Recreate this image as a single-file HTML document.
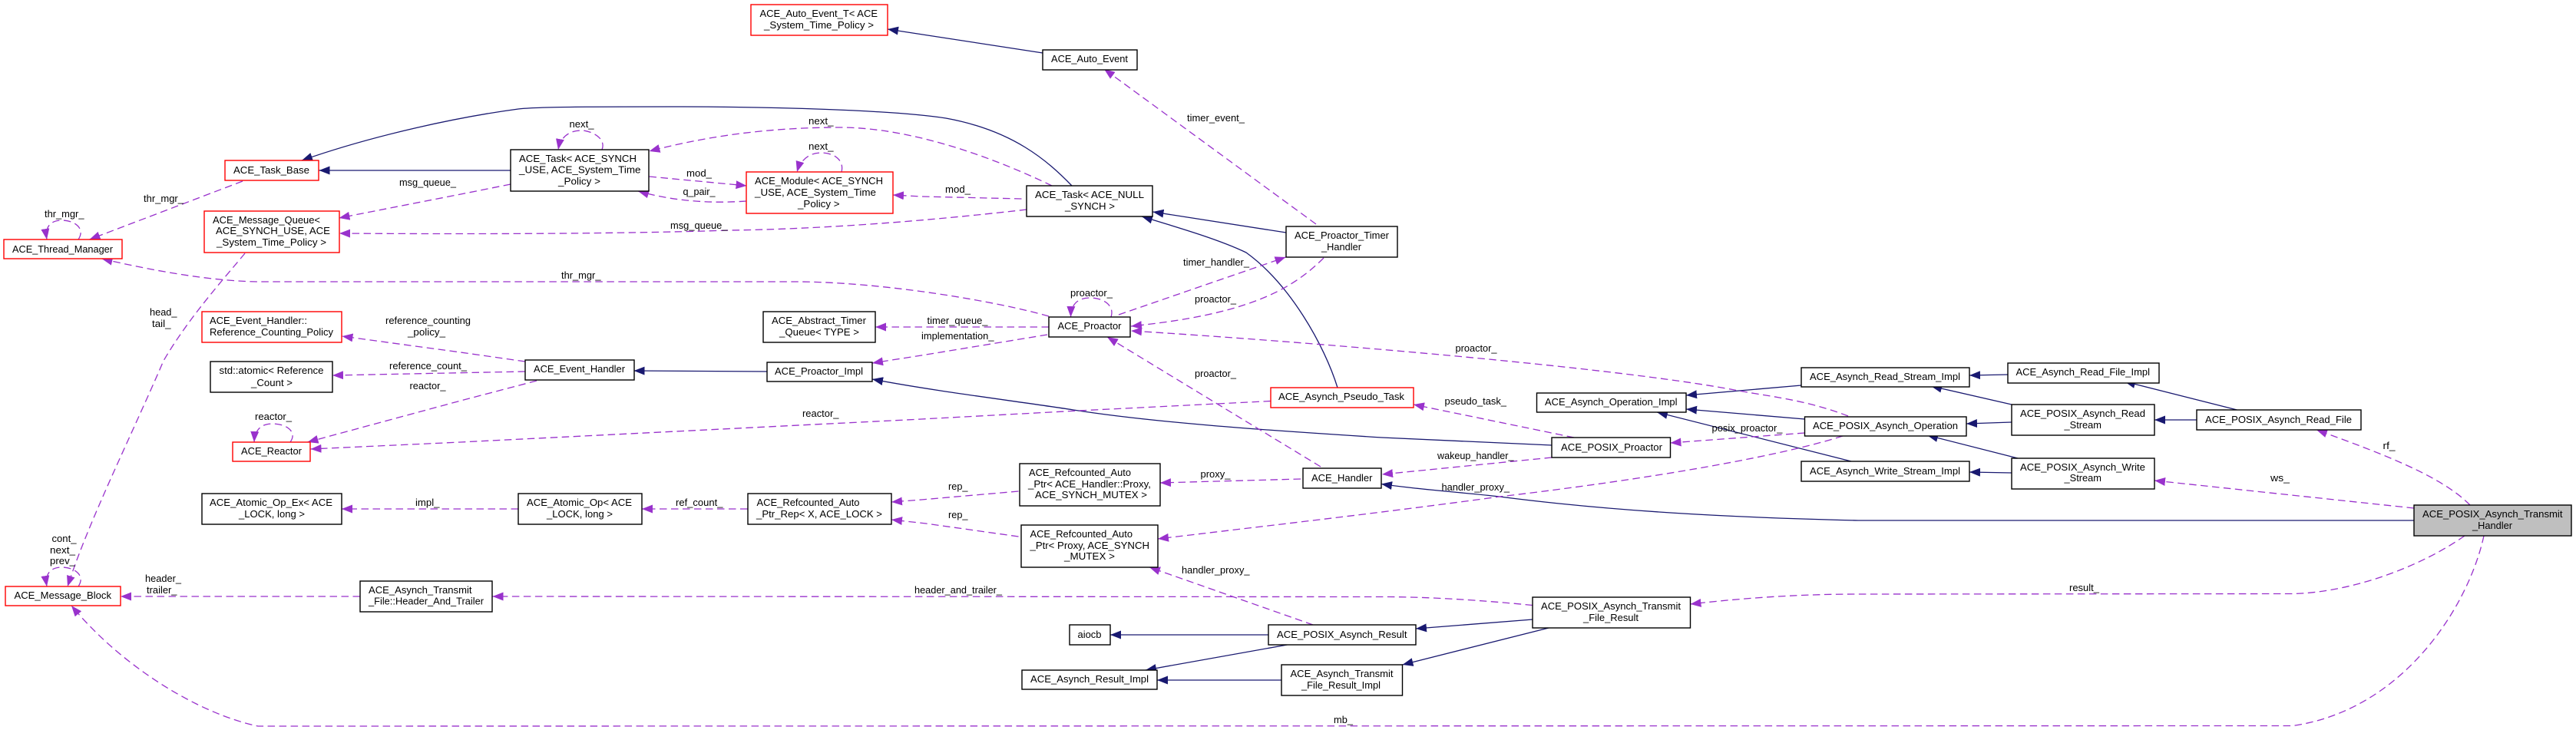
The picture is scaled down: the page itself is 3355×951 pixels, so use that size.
<!DOCTYPE html>
<html><head><meta charset="utf-8"><title>ACE_POSIX_Asynch_Transmit_Handler</title>
<style>
html,body{margin:0;padding:0;background:#fff}
svg{display:block}
text{font-family:"Liberation Sans",Arial,sans-serif;font-size:12.8px;fill:#000}
.b{fill:#fff;stroke:#000;stroke-width:1.4}
.r{fill:#fff;stroke:#f00;stroke-width:1.4}
.g{fill:#bfbfbf;stroke:#000;stroke-width:1.4}
.s{fill:none;stroke:#191970;stroke-width:1.3;marker-end:url(#an)}
.d{fill:none;stroke:#9932cc;stroke-width:1.3;stroke-dasharray:9.5 5.5;marker-end:url(#ap)}
</style></head><body>
<svg xmlns="http://www.w3.org/2000/svg" width="3355" height="951" viewBox="0 0 3355 951">
<defs>
<marker id="an" markerUnits="userSpaceOnUse" markerWidth="16" markerHeight="12" refX="14" refY="5.5" orient="auto"><polygon points="0,0 14,5.5 0,11" fill="#191970"/></marker>
<marker id="ap" markerUnits="userSpaceOnUse" markerWidth="16" markerHeight="12" refX="14" refY="5.5" orient="auto"><polygon points="0,0 14,5.5 0,11" fill="#9932cc"/></marker>
</defs>
<rect width="3355" height="951" fill="#fff"/>

<!-- solid edges -->
<path class="s" d="M665,222L415.5,222"/>
<path class="s" d="M1396,242C1365,210 1320,170 1232,154C1160,143 1000,139 877,139C780,139 700,139 675,142C600,152 490,175 393,209"/>
<path class="s" d="M1358,69L1156,38"/>
<path class="s" d="M1675,303L1501.5,276"/>
<path class="s" d="M1742,505C1725,450 1680,370 1623,329C1590,313 1540,298 1487,282"/>
<path class="s" d="M999,484L825.5,483"/>
<path class="s" d="M2021,580L1800,570C1640,560 1500,550 1398,534C1320,522 1220,510 1136,494"/>
<path class="s" d="M3144,678L2420,678C2250,674 2100,666 1953,647C1900,641 1850,638 1799,630.5"/>
<path class="s" d="M2346,502L2196,515"/>
<path class="s" d="M2350.5,546L2196,533"/>
<path class="s" d="M2411,601L2158,537"/>
<path class="s" d="M2615,488L2565,489"/>
<path class="s" d="M2620,527L2515,503"/>
<path class="s" d="M2620,550L2561,552"/>
<path class="s" d="M2628,597L2510,567"/>
<path class="s" d="M2620,616L2565,615"/>
<path class="s" d="M2913.5,534L2767,497"/>
<path class="s" d="M2861,547L2806,547"/>
<path class="s" d="M1652,827L1446,827"/>
<path class="s" d="M1676.5,840L1492,873"/>
<path class="s" d="M1669,886L1507,886"/>
<path class="s" d="M1996,807L1844,819"/>
<path class="s" d="M2017,818L1826.5,866"/>

<!-- dashed edges -->
<path class="d" d="M316,236L116.5,312"/>
<path class="d" d="M102,312C112,297 96,287 81,287C68,287 58,293 61,312"/>
<path class="d" d="M665,240L600,253L441.5,284"/>
<path class="d" d="M1337,273C1250,283 1100,298 950,300C800,305 600,305 442,304"/>
<path class="d" d="M1366,412C1300,393 1150,367 1035,367L340,367C280,367 200,353 132.5,337"/>
<path class="d" d="M319,330C290,365 245,415 213,470C170,570 115,680 88,764"/>
<path class="d" d="M102,764C112,749 96,739 81,739C68,739 58,745 61,764"/>
<path class="d" d="M469,777L157,777"/>
<path class="d" d="M1996,788.5C1950,784 1880,778 1808,777.5L641.5,777"/>
<path class="d" d="M3235,698C3215,790 3130,925 2986,945.5L336,946C260,930 160,870 93,789"/>
<path class="d" d="M684,471L600,459L445.5,438"/>
<path class="d" d="M684,484L433,489"/>
<path class="d" d="M699,496L600,522L400.5,576"/>
<path class="d" d="M378,576C388,562 372,552 355,552C342,552 332,558 331,576"/>
<path class="d" d="M1655,522.5L1405,535L1200,546L600,576L404.5,585"/>
<path class="d" d="M784,195C790,180 770,170 757,170C742,170 730,178 727,195"/>
<path class="d" d="M1370,242C1300,208 1190,166 1094,166C1010,166 930,175 845.5,197"/>
<path class="d" d="M845.5,230L972.5,242"/>
<path class="d" d="M972,262C930,265 880,263 831,249"/>
<path class="d" d="M1096,224C1100,208 1085,199 1070,199C1055,199 1043,207 1038,224"/>
<path class="d" d="M1330.5,259L1200,256L1163,254"/>
<path class="d" d="M1714,292L1479,120L1438,90"/>
<path class="d" d="M1457,410L1674.5,335"/>
<path class="d" d="M1724,336C1680,380 1620,410 1473,425"/>
<path class="d" d="M1447,413C1452,398 1437,388 1420,388C1405,388 1395,395 1394.5,413"/>
<path class="d" d="M2407,542C2350,520 2300,516 2259,508C2100,478 1700,445 1473,431"/>
<path class="d" d="M1720,608L1442,439"/>
<path class="d" d="M1366,426L1140,426"/>
<path class="d" d="M1364,436L1200,463L1136,473"/>
<path class="d" d="M2050,570L1841,527"/>
<path class="d" d="M2021,596L1800,618"/>
<path class="d" d="M2350.5,564L2175.5,577"/>
<path class="d" d="M2400,568C2300,600 2100,630 1953,647C1800,668 1650,685 1508,702"/>
<path class="d" d="M1694,624L1511,629"/>
<path class="d" d="M1710,814L1497,739"/>
<path class="d" d="M1326.5,640L1200,651L1161,654"/>
<path class="d" d="M1326.5,699L1206,682L1161,677"/>
<path class="d" d="M973.5,663L836,663"/>
<path class="d" d="M675,663L445,663"/>
<path class="d" d="M3217,658C3180,620 3100,590 3017,560"/>
<path class="d" d="M3144,662L2806,626"/>
<path class="d" d="M3210,698C3150,740 3060,772 2986,773.5L2420,774C2350,774 2280,778 2201.5,787"/>

<!-- nodes -->
<rect class="r" x="5" y="312" width="154" height="25"/>
<rect class="r" x="293" y="209" width="122" height="26"/>
<rect class="r" x="266" y="275" width="176" height="54"/>
<rect class="r" x="263" y="406" width="182" height="40"/>
<rect class="b" x="274" y="471" width="159" height="40"/>
<rect class="r" x="303" y="576" width="101" height="25"/>
<rect class="b" x="263" y="643" width="182" height="40"/>
<rect class="r" x="7" y="764" width="150" height="25"/>
<rect class="b" x="469" y="757" width="172" height="40"/>
<rect class="r" x="978" y="6" width="178" height="40"/>
<rect class="b" x="665" y="195" width="180" height="54"/>
<rect class="r" x="972" y="224" width="191" height="54"/>
<rect class="b" x="994" y="406" width="146" height="40"/>
<rect class="b" x="684" y="469" width="142" height="26"/>
<rect class="b" x="999" y="472" width="137" height="25"/>
<rect class="b" x="675" y="643" width="161" height="40"/>
<rect class="b" x="974" y="643" width="187" height="40"/>
<rect class="b" x="1358" y="65" width="123" height="26"/>
<rect class="b" x="1337" y="242" width="164" height="40"/>
<rect class="b" x="1675" y="295" width="145" height="40"/>
<rect class="b" x="1366" y="413" width="106" height="26"/>
<rect class="r" x="1655" y="505" width="186" height="26"/>
<rect class="b" x="1328" y="604" width="183" height="55"/>
<rect class="b" x="1330" y="684" width="178" height="55"/>
<rect class="b" x="1697" y="610" width="102" height="26"/>
<rect class="b" x="1393" y="814" width="53" height="26"/>
<rect class="b" x="1331" y="873" width="176" height="25"/>
<rect class="b" x="1652" y="814" width="192" height="26"/>
<rect class="b" x="1669" y="866" width="157.5" height="40"/>
<rect class="b" x="2001.5" y="512" width="194.5" height="25"/>
<rect class="b" x="2021" y="570" width="154.5" height="26"/>
<rect class="b" x="2346" y="479" width="219" height="25"/>
<rect class="b" x="2350.5" y="543" width="210.5" height="25"/>
<rect class="b" x="2346" y="601" width="219" height="26"/>
<rect class="b" x="2615" y="473" width="197" height="26"/>
<rect class="b" x="2620" y="527" width="186" height="40"/>
<rect class="b" x="2861" y="534" width="214" height="26"/>
<rect class="b" x="2620" y="597" width="186" height="40"/>
<rect class="b" x="1996" y="778" width="205.5" height="40"/>
<rect class="g" x="3144" y="658" width="205" height="40"/>

<!-- node text -->
<g lengthAdjust="spacingAndGlyphs">
<text x="16" y="329" textLength="131" lengthAdjust="spacingAndGlyphs">ACE_Thread_Manager</text>
<text x="304" y="226" textLength="99" lengthAdjust="spacingAndGlyphs">ACE_Task_Base</text>
<text x="277" y="291" textLength="140" lengthAdjust="spacingAndGlyphs">ACE_Message_Queue&lt;</text>
<text x="281" y="305" textLength="149" lengthAdjust="spacingAndGlyphs">ACE_SYNCH_USE, ACE</text>
<text x="282" y="320" textLength="143" lengthAdjust="spacingAndGlyphs">_System_Time_Policy &gt;</text>
<text x="273" y="422" textLength="127" lengthAdjust="spacingAndGlyphs">ACE_Event_Handler::</text>
<text x="273" y="437" textLength="161" lengthAdjust="spacingAndGlyphs">Reference_Counting_Policy</text>
<text x="285.5" y="487" textLength="136" lengthAdjust="spacingAndGlyphs">std::atomic&lt; Reference</text>
<text x="327" y="503" textLength="54" lengthAdjust="spacingAndGlyphs">_Count &gt;</text>
<text x="314" y="592" textLength="79" lengthAdjust="spacingAndGlyphs">ACE_Reactor</text>
<text x="273" y="659" textLength="160" lengthAdjust="spacingAndGlyphs">ACE_Atomic_Op_Ex&lt; ACE</text>
<text x="311" y="674" textLength="86" lengthAdjust="spacingAndGlyphs">_LOCK, long &gt;</text>
<text x="18.5" y="780" textLength="126.5" lengthAdjust="spacingAndGlyphs">ACE_Message_Block</text>
<text x="480" y="773" textLength="134.5" lengthAdjust="spacingAndGlyphs">ACE_Asynch_Transmit</text>
<text x="480" y="787.5" textLength="150" lengthAdjust="spacingAndGlyphs">_File::Header_And_Trailer</text>
<text x="989.5" y="22" textLength="153.5" lengthAdjust="spacingAndGlyphs">ACE_Auto_Event_T&lt; ACE</text>
<text x="995" y="37" textLength="143" lengthAdjust="spacingAndGlyphs">_System_Time_Policy &gt;</text>
<text x="676" y="211" textLength="153" lengthAdjust="spacingAndGlyphs">ACE_Task&lt; ACE_SYNCH</text>
<text x="676" y="225.5" textLength="158.5" lengthAdjust="spacingAndGlyphs">_USE, ACE_System_Time</text>
<text x="727" y="240.5" textLength="55" lengthAdjust="spacingAndGlyphs">_Policy &gt;</text>
<text x="983" y="240" textLength="167" lengthAdjust="spacingAndGlyphs">ACE_Module&lt; ACE_SYNCH</text>
<text x="983" y="255" textLength="158" lengthAdjust="spacingAndGlyphs">_USE, ACE_System_Time</text>
<text x="1039" y="270" textLength="54.5" lengthAdjust="spacingAndGlyphs">_Policy &gt;</text>
<text x="1005" y="422" textLength="123" lengthAdjust="spacingAndGlyphs">ACE_Abstract_Timer</text>
<text x="1015" y="437" textLength="104" lengthAdjust="spacingAndGlyphs">_Queue&lt; TYPE &gt;</text>
<text x="695" y="485" textLength="119" lengthAdjust="spacingAndGlyphs">ACE_Event_Handler</text>
<text x="1009" y="488" textLength="115" lengthAdjust="spacingAndGlyphs">ACE_Proactor_Impl</text>
<text x="686" y="659" textLength="137" lengthAdjust="spacingAndGlyphs">ACE_Atomic_Op&lt; ACE</text>
<text x="712" y="674" textLength="86" lengthAdjust="spacingAndGlyphs">_LOCK, long &gt;</text>
<text x="985.5" y="659" textLength="134" lengthAdjust="spacingAndGlyphs">ACE_Refcounted_Auto</text>
<text x="985" y="674" textLength="164" lengthAdjust="spacingAndGlyphs">_Ptr_Rep&lt; X, ACE_LOCK &gt;</text>
<text x="1369" y="81" textLength="100" lengthAdjust="spacingAndGlyphs">ACE_Auto_Event</text>
<text x="1348" y="258" textLength="142" lengthAdjust="spacingAndGlyphs">ACE_Task&lt; ACE_NULL</text>
<text x="1387" y="273" textLength="65" lengthAdjust="spacingAndGlyphs">_SYNCH &gt;</text>
<text x="1686" y="311" textLength="123" lengthAdjust="spacingAndGlyphs">ACE_Proactor_Timer</text>
<text x="1721" y="326" textLength="52" lengthAdjust="spacingAndGlyphs">_Handler</text>
<text x="1377.5" y="429" textLength="83" lengthAdjust="spacingAndGlyphs">ACE_Proactor</text>
<text x="1665" y="521" textLength="164" lengthAdjust="spacingAndGlyphs">ACE_Asynch_Pseudo_Task</text>
<text x="1340" y="620" textLength="133" lengthAdjust="spacingAndGlyphs">ACE_Refcounted_Auto</text>
<text x="1339" y="635" textLength="160" lengthAdjust="spacingAndGlyphs">_Ptr&lt; ACE_Handler::Proxy,</text>
<text x="1348" y="649" textLength="146" lengthAdjust="spacingAndGlyphs">ACE_SYNCH_MUTEX &gt;</text>
<text x="1341.5" y="700" textLength="133.5" lengthAdjust="spacingAndGlyphs">ACE_Refcounted_Auto</text>
<text x="1341.5" y="715" textLength="155.5" lengthAdjust="spacingAndGlyphs">_Ptr&lt; Proxy, ACE_SYNCH</text>
<text x="1386" y="729" textLength="66" lengthAdjust="spacingAndGlyphs">_MUTEX &gt;</text>
<text x="1708" y="627" textLength="79.5" lengthAdjust="spacingAndGlyphs">ACE_Handler</text>
<text x="1403.5" y="831" textLength="31" lengthAdjust="spacingAndGlyphs">aiocb</text>
<text x="1342" y="889" textLength="154" lengthAdjust="spacingAndGlyphs">ACE_Asynch_Result_Impl</text>
<text x="1663" y="831" textLength="169.5" lengthAdjust="spacingAndGlyphs">ACE_POSIX_Asynch_Result</text>
<text x="1680.5" y="882" textLength="134" lengthAdjust="spacingAndGlyphs">ACE_Asynch_Transmit</text>
<text x="1695" y="897" textLength="103" lengthAdjust="spacingAndGlyphs">_File_Result_Impl</text>
<text x="2012" y="528" textLength="172.5" lengthAdjust="spacingAndGlyphs">ACE_Asynch_Operation_Impl</text>
<text x="2033" y="587" textLength="132" lengthAdjust="spacingAndGlyphs">ACE_POSIX_Proactor</text>
<text x="2357" y="495" textLength="196" lengthAdjust="spacingAndGlyphs">ACE_Asynch_Read_Stream_Impl</text>
<text x="2361" y="559" textLength="189" lengthAdjust="spacingAndGlyphs">ACE_POSIX_Asynch_Operation</text>
<text x="2357" y="618" textLength="196" lengthAdjust="spacingAndGlyphs">ACE_Asynch_Write_Stream_Impl</text>
<text x="2625.5" y="489" textLength="174.5" lengthAdjust="spacingAndGlyphs">ACE_Asynch_Read_File_Impl</text>
<text x="2631" y="543" textLength="163" lengthAdjust="spacingAndGlyphs">ACE_POSIX_Asynch_Read</text>
<text x="2688.5" y="558" textLength="48.5" lengthAdjust="spacingAndGlyphs">_Stream</text>
<text x="2872" y="551" textLength="191" lengthAdjust="spacingAndGlyphs">ACE_POSIX_Asynch_Read_File</text>
<text x="2631" y="613" textLength="163" lengthAdjust="spacingAndGlyphs">ACE_POSIX_Asynch_Write</text>
<text x="2688.5" y="627" textLength="48.5" lengthAdjust="spacingAndGlyphs">_Stream</text>
<text x="2007" y="794" textLength="182" lengthAdjust="spacingAndGlyphs">ACE_POSIX_Asynch_Transmit</text>
<text x="2062" y="809" textLength="72" lengthAdjust="spacingAndGlyphs">_File_Result</text>
<text x="3155" y="674" textLength="182.5" lengthAdjust="spacingAndGlyphs">ACE_POSIX_Asynch_Transmit</text>
<text x="3220" y="689" textLength="52" lengthAdjust="spacingAndGlyphs">_Handler</text>

<!-- edge labels -->
<text x="187" y="263" textLength="52" lengthAdjust="spacingAndGlyphs">thr_mgr_</text>
<text x="58" y="283" textLength="51.5" lengthAdjust="spacingAndGlyphs">thr_mgr_</text>
<text x="520" y="242" textLength="74" lengthAdjust="spacingAndGlyphs">msg_queue_</text>
<text x="195" y="411" textLength="35.5" lengthAdjust="spacingAndGlyphs">head_</text>
<text x="198" y="426" textLength="24.5" lengthAdjust="spacingAndGlyphs">tail_</text>
<text x="502" y="422" textLength="111" lengthAdjust="spacingAndGlyphs">reference_counting</text>
<text x="531" y="437" textLength="49" lengthAdjust="spacingAndGlyphs">_policy_</text>
<text x="507" y="481" textLength="101" lengthAdjust="spacingAndGlyphs">reference_count_</text>
<text x="533.5" y="507" textLength="47" lengthAdjust="spacingAndGlyphs">reactor_</text>
<text x="332" y="547" textLength="48" lengthAdjust="spacingAndGlyphs">reactor_</text>
<text x="541" y="659" textLength="31.5" lengthAdjust="spacingAndGlyphs">impl_</text>
<text x="67.5" y="706" textLength="32" lengthAdjust="spacingAndGlyphs">cont_</text>
<text x="65" y="721" textLength="33" lengthAdjust="spacingAndGlyphs">next_</text>
<text x="65" y="735" textLength="33" lengthAdjust="spacingAndGlyphs">prev_</text>
<text x="189" y="758" textLength="47" lengthAdjust="spacingAndGlyphs">header_</text>
<text x="191" y="773" textLength="39.5" lengthAdjust="spacingAndGlyphs">trailer_</text>
<text x="741.5" y="166" textLength="32" lengthAdjust="spacingAndGlyphs">next_</text>
<text x="1053" y="162" textLength="32.5" lengthAdjust="spacingAndGlyphs">next_</text>
<text x="1053" y="195" textLength="32.5" lengthAdjust="spacingAndGlyphs">next_</text>
<text x="894" y="230" textLength="33" lengthAdjust="spacingAndGlyphs">mod_</text>
<text x="889.5" y="254" textLength="42" lengthAdjust="spacingAndGlyphs">q_pair_</text>
<text x="873" y="298" textLength="74.5" lengthAdjust="spacingAndGlyphs">msg_queue_</text>
<text x="731" y="363" textLength="51.5" lengthAdjust="spacingAndGlyphs">thr_mgr_</text>
<text x="1045" y="543" textLength="47.5" lengthAdjust="spacingAndGlyphs">reactor_</text>
<text x="880" y="659" textLength="61.5" lengthAdjust="spacingAndGlyphs">ref_count_</text>
<text x="1191" y="773" textLength="114" lengthAdjust="spacingAndGlyphs">header_and_trailer_</text>
<text x="1546" y="158" textLength="75" lengthAdjust="spacingAndGlyphs">timer_event_</text>
<text x="1231" y="251" textLength="33" lengthAdjust="spacingAndGlyphs">mod_</text>
<text x="1541" y="346" textLength="86" lengthAdjust="spacingAndGlyphs">timer_handler_</text>
<text x="1394" y="386" textLength="55" lengthAdjust="spacingAndGlyphs">proactor_</text>
<text x="1556" y="394" textLength="54" lengthAdjust="spacingAndGlyphs">proactor_</text>
<text x="1207.5" y="422" textLength="79" lengthAdjust="spacingAndGlyphs">timer_queue_</text>
<text x="1200" y="442" textLength="94.5" lengthAdjust="spacingAndGlyphs">implementation_</text>
<text x="1556" y="491" textLength="54" lengthAdjust="spacingAndGlyphs">proactor_</text>
<text x="1235" y="638" textLength="25.5" lengthAdjust="spacingAndGlyphs">rep_</text>
<text x="1235" y="675" textLength="25.5" lengthAdjust="spacingAndGlyphs">rep_</text>
<text x="1563.5" y="622" textLength="39" lengthAdjust="spacingAndGlyphs">proxy_</text>
<text x="1539" y="747" textLength="88.5" lengthAdjust="spacingAndGlyphs">handler_proxy_</text>
<text x="1737" y="942" textLength="25" lengthAdjust="spacingAndGlyphs">mb_</text>
<text x="1895.5" y="458" textLength="54" lengthAdjust="spacingAndGlyphs">proactor_</text>
<text x="1881.5" y="527" textLength="80.5" lengthAdjust="spacingAndGlyphs">pseudo_task_</text>
<text x="2229.5" y="562" textLength="92" lengthAdjust="spacingAndGlyphs">posix_proactor_</text>
<text x="1872" y="598" textLength="99.5" lengthAdjust="spacingAndGlyphs">wakeup_handler_</text>
<text x="1877.5" y="639" textLength="88.5" lengthAdjust="spacingAndGlyphs">handler_proxy_</text>
<text x="3103.5" y="585" textLength="16" lengthAdjust="spacingAndGlyphs">rf_</text>
<text x="2957" y="627" textLength="25" lengthAdjust="spacingAndGlyphs">ws_</text>
<text x="2695" y="770" textLength="39" lengthAdjust="spacingAndGlyphs">result_</text>
</g>
</svg>
</body></html>
